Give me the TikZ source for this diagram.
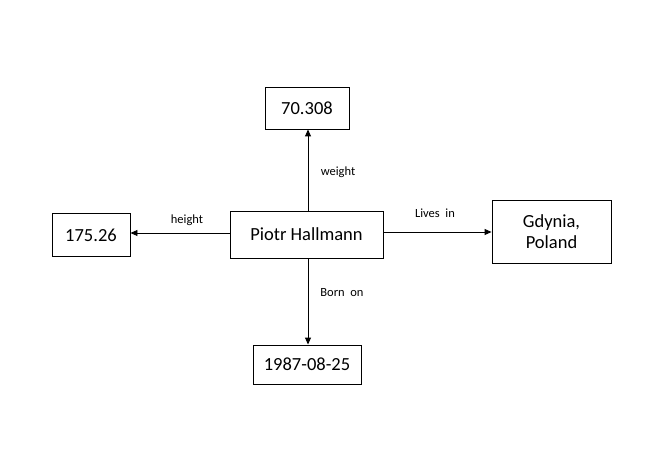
\documentclass[tikz,border=0pt]{standalone}
\usepackage{fontspec}
\setmainfont{Carlito}
\usetikzlibrary{arrows.meta}
\begin{document}
\begin{tikzpicture}[x=1pt,y=-1pt,
  box/.style={draw=black,line width=0.9pt,minimum width=#1,inner sep=0pt,align=center,font=\fontsize{18.5}{21.5}\selectfont},
  lbl/.style={font=\fontsize{12.5}{14}\selectfont},
  conn/.style={line width=0.9pt,-{Triangle[length=7pt,width=6pt]}}]
\useasboundingbox (0,0) rectangle (669,473);
\node[box=153pt,minimum height=47pt] (c) at (306.5,234.5) {Piotr Hallmann};
\node[box=84pt,minimum height=42pt] (w) at (307,108) {70.308};
\node[box=78pt,minimum height=43pt] (h) at (91,235) {175.26};
\node[box=119pt,minimum height=63pt] (g) at (551.5,231.5) {Gdynia,\\Poland};
\node[box=108pt,minimum height=39pt] (b) at (307,364.5) {1987-08-25};
\draw[conn] (c.north -| 308,0) -- (w.south -| 308,0);
\draw[conn] (c.west |- 0,233) -- (h.east |- 0,233);
\draw[conn] (c.east |- 0,232) -- (g.west |- 0,232);
\draw[conn] (c.south -| 308,0) -- (b.north -| 308,0);
\node[lbl] (lw) at (338,172) {weight};
\node[lbl] (lh) at (187,220) {height};
\node[lbl] (ll) at (435,213) {Lives\ \ in};
\node[lbl] (lb) at (342,293) {Born\ \ on};
\end{tikzpicture}
\end{document}
